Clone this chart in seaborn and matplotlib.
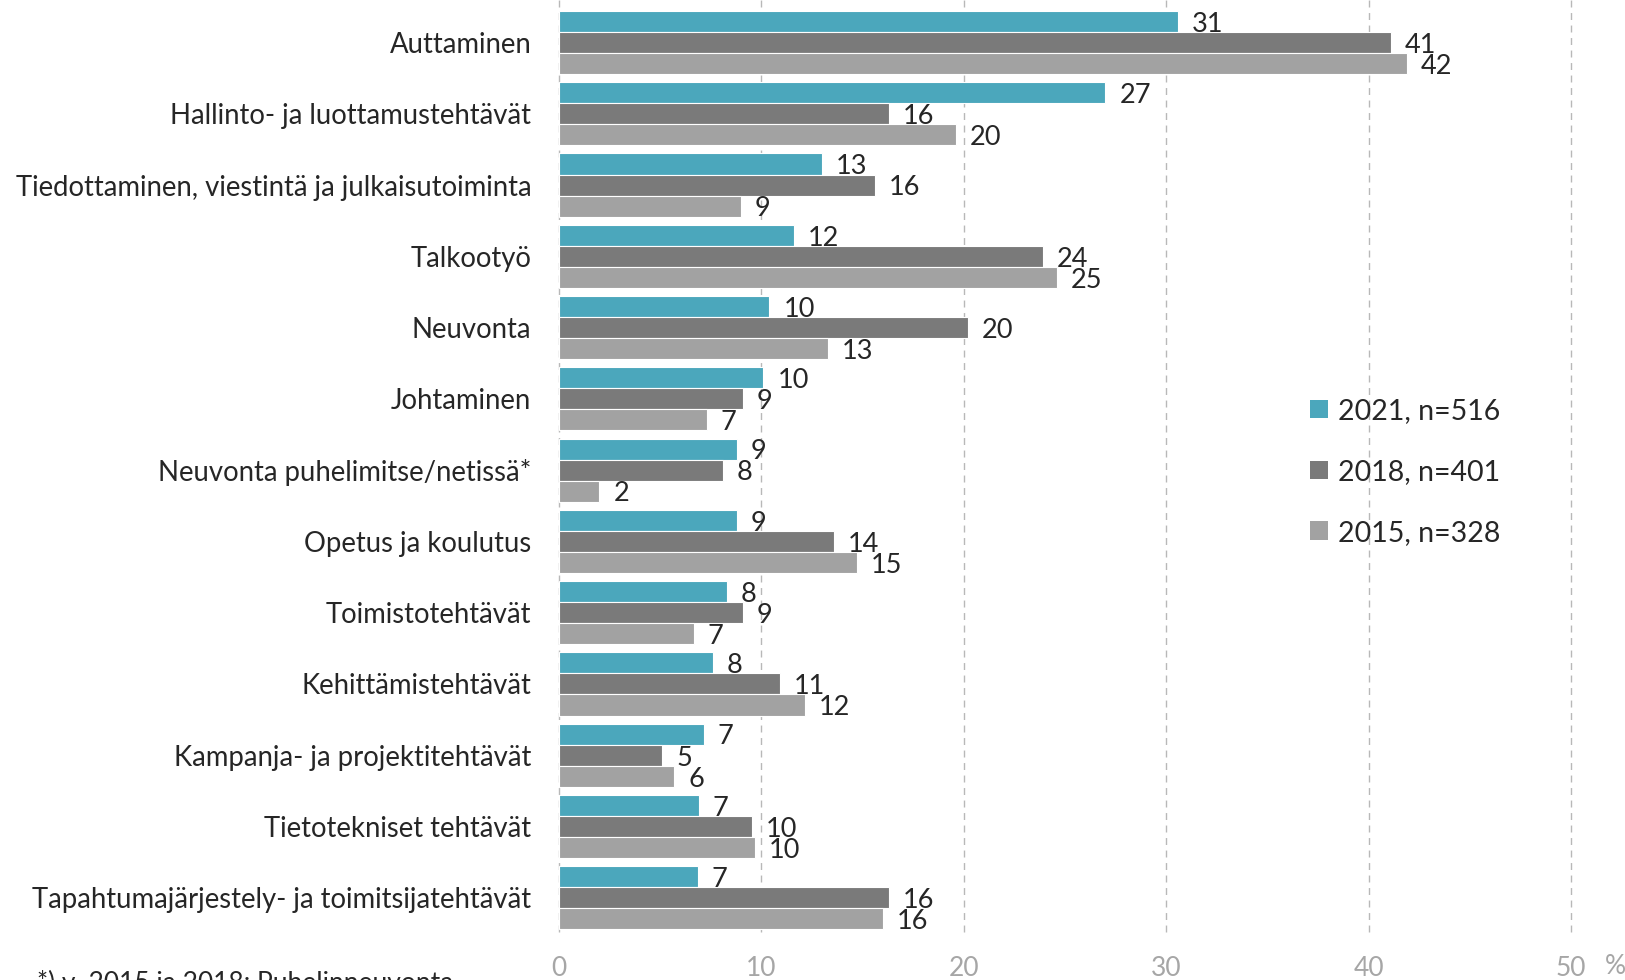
import matplotlib
matplotlib.use("Agg")
import matplotlib.pyplot as plt
from matplotlib.patches import Patch
import seaborn as sns
import pandas as pd

categories = [
    "Auttaminen",
    "Hallinto- ja luottamustehtävät",
    "Tiedottaminen, viestintä ja julkaisutoiminta",
    "Talkootyö",
    "Neuvonta",
    "Johtaminen",
    "Neuvonta puhelimitse/netissä*",
    "Opetus ja koulutus",
    "Toimistotehtävät",
    "Kehittämistehtävät",
    "Kampanja- ja projektitehtävät",
    "Tietotekniset tehtävät",
    "Tapahtumajärjestely- ja toimitsijatehtävät",
]
series_names = ["2021, n=516", "2018, n=401", "2015, n=328"]
values_2021 = [30.6, 27.0, 13.0, 11.6, 10.4, 10.1, 8.8, 8.8, 8.3, 7.6, 7.15, 6.9, 6.85]
values_2018 = [41.1, 16.3, 15.6, 23.9, 20.2, 9.1, 8.1, 13.6, 9.1, 10.9, 5.1, 9.55, 16.3]
values_2015 = [41.9, 19.6, 9.0, 24.6, 13.3, 7.3, 2.0, 14.7, 6.65, 12.15, 5.7, 9.7, 16.0]
x_ticks = [0, 10, 20, 30, 40, 50]
footnote = "*) v. 2015 ja 2018: Puhelinneuvonta"

colors = ["#4BA7BC", "#7A7A7A", "#A2A2A2"]

rows = []
for name, vals in zip(series_names, [values_2021, values_2018, values_2015]):
    for c, v in zip(categories, vals):
        rows.append({"cat": c, "value": v, "series": name})
df = pd.DataFrame(rows)

sns.set_theme(style="white")
plt.rcParams["font.family"] = ["Lato", "DejaVu Sans"]

W, H = 1625, 980
fig = plt.figure(figsize=(W / 100, H / 100), dpi=100)
ax = fig.add_axes([559 / W, 1 - 932 / H, (1571 - 559) / W, 932 / H])

for t in x_ticks:
    ax.axvline(t, color="#B8B8B8", linestyle=(0, (5, 4)), linewidth=1,
               clip_on=False, zorder=0)

sns.barplot(
    data=df, y="cat", x="value", hue="series", order=categories,
    hue_order=series_names, palette=colors, width=0.885, orient="h",
    ax=ax, legend=False, edgecolor="white", linewidth=0.8, saturation=1,
)

ax.set_xlim(0, 50)
ax.set_ylim(12.48, -0.596)
ax.set_xticks(x_ticks)
ax.set_xticklabels([str(t) for t in x_ticks], fontsize=19, color="#A6A6A6")
ax.tick_params(axis="x", length=0, pad=17)
ax.tick_params(axis="y", length=0, pad=20)
for lab in ax.get_yticklabels():
    lab.set_fontsize(19.8)
    lab.set_color("#262626")
ax.set_xlabel("")
ax.set_ylabel("")
for s in ax.spines.values():
    s.set_visible(False)
ax.grid(False)

for cont in ax.containers:
    labels = [f"{b.get_width():.0f}" for b in cont]
    anns = ax.bar_label(cont, labels=labels, padding=10, fontsize=19.5, color="#262626")
    for a in anns:
        a.xyann = (10, -2)

handles = [Patch(facecolor=c, edgecolor="none") for c in colors]
fig.legend(
    handles, series_names, loc="center left", bbox_to_anchor=(1296 / W, 1 - 472 / H),
    frameon=False, fontsize=20.5, handlelength=0.62, handleheight=0.62,
    handletextpad=0.35, labelspacing=1.22, borderpad=0, labelcolor="#262626",
)

fig.text(1615 / W, 1 - 966 / H, "%", fontsize=19, color="#A6A6A6", ha="center", va="center")
fig.text(37 / W, 1 - 970 / H, footnote, fontsize=19, color="#262626", ha="left", va="top")

fig.savefig("out.png", dpi=100)
